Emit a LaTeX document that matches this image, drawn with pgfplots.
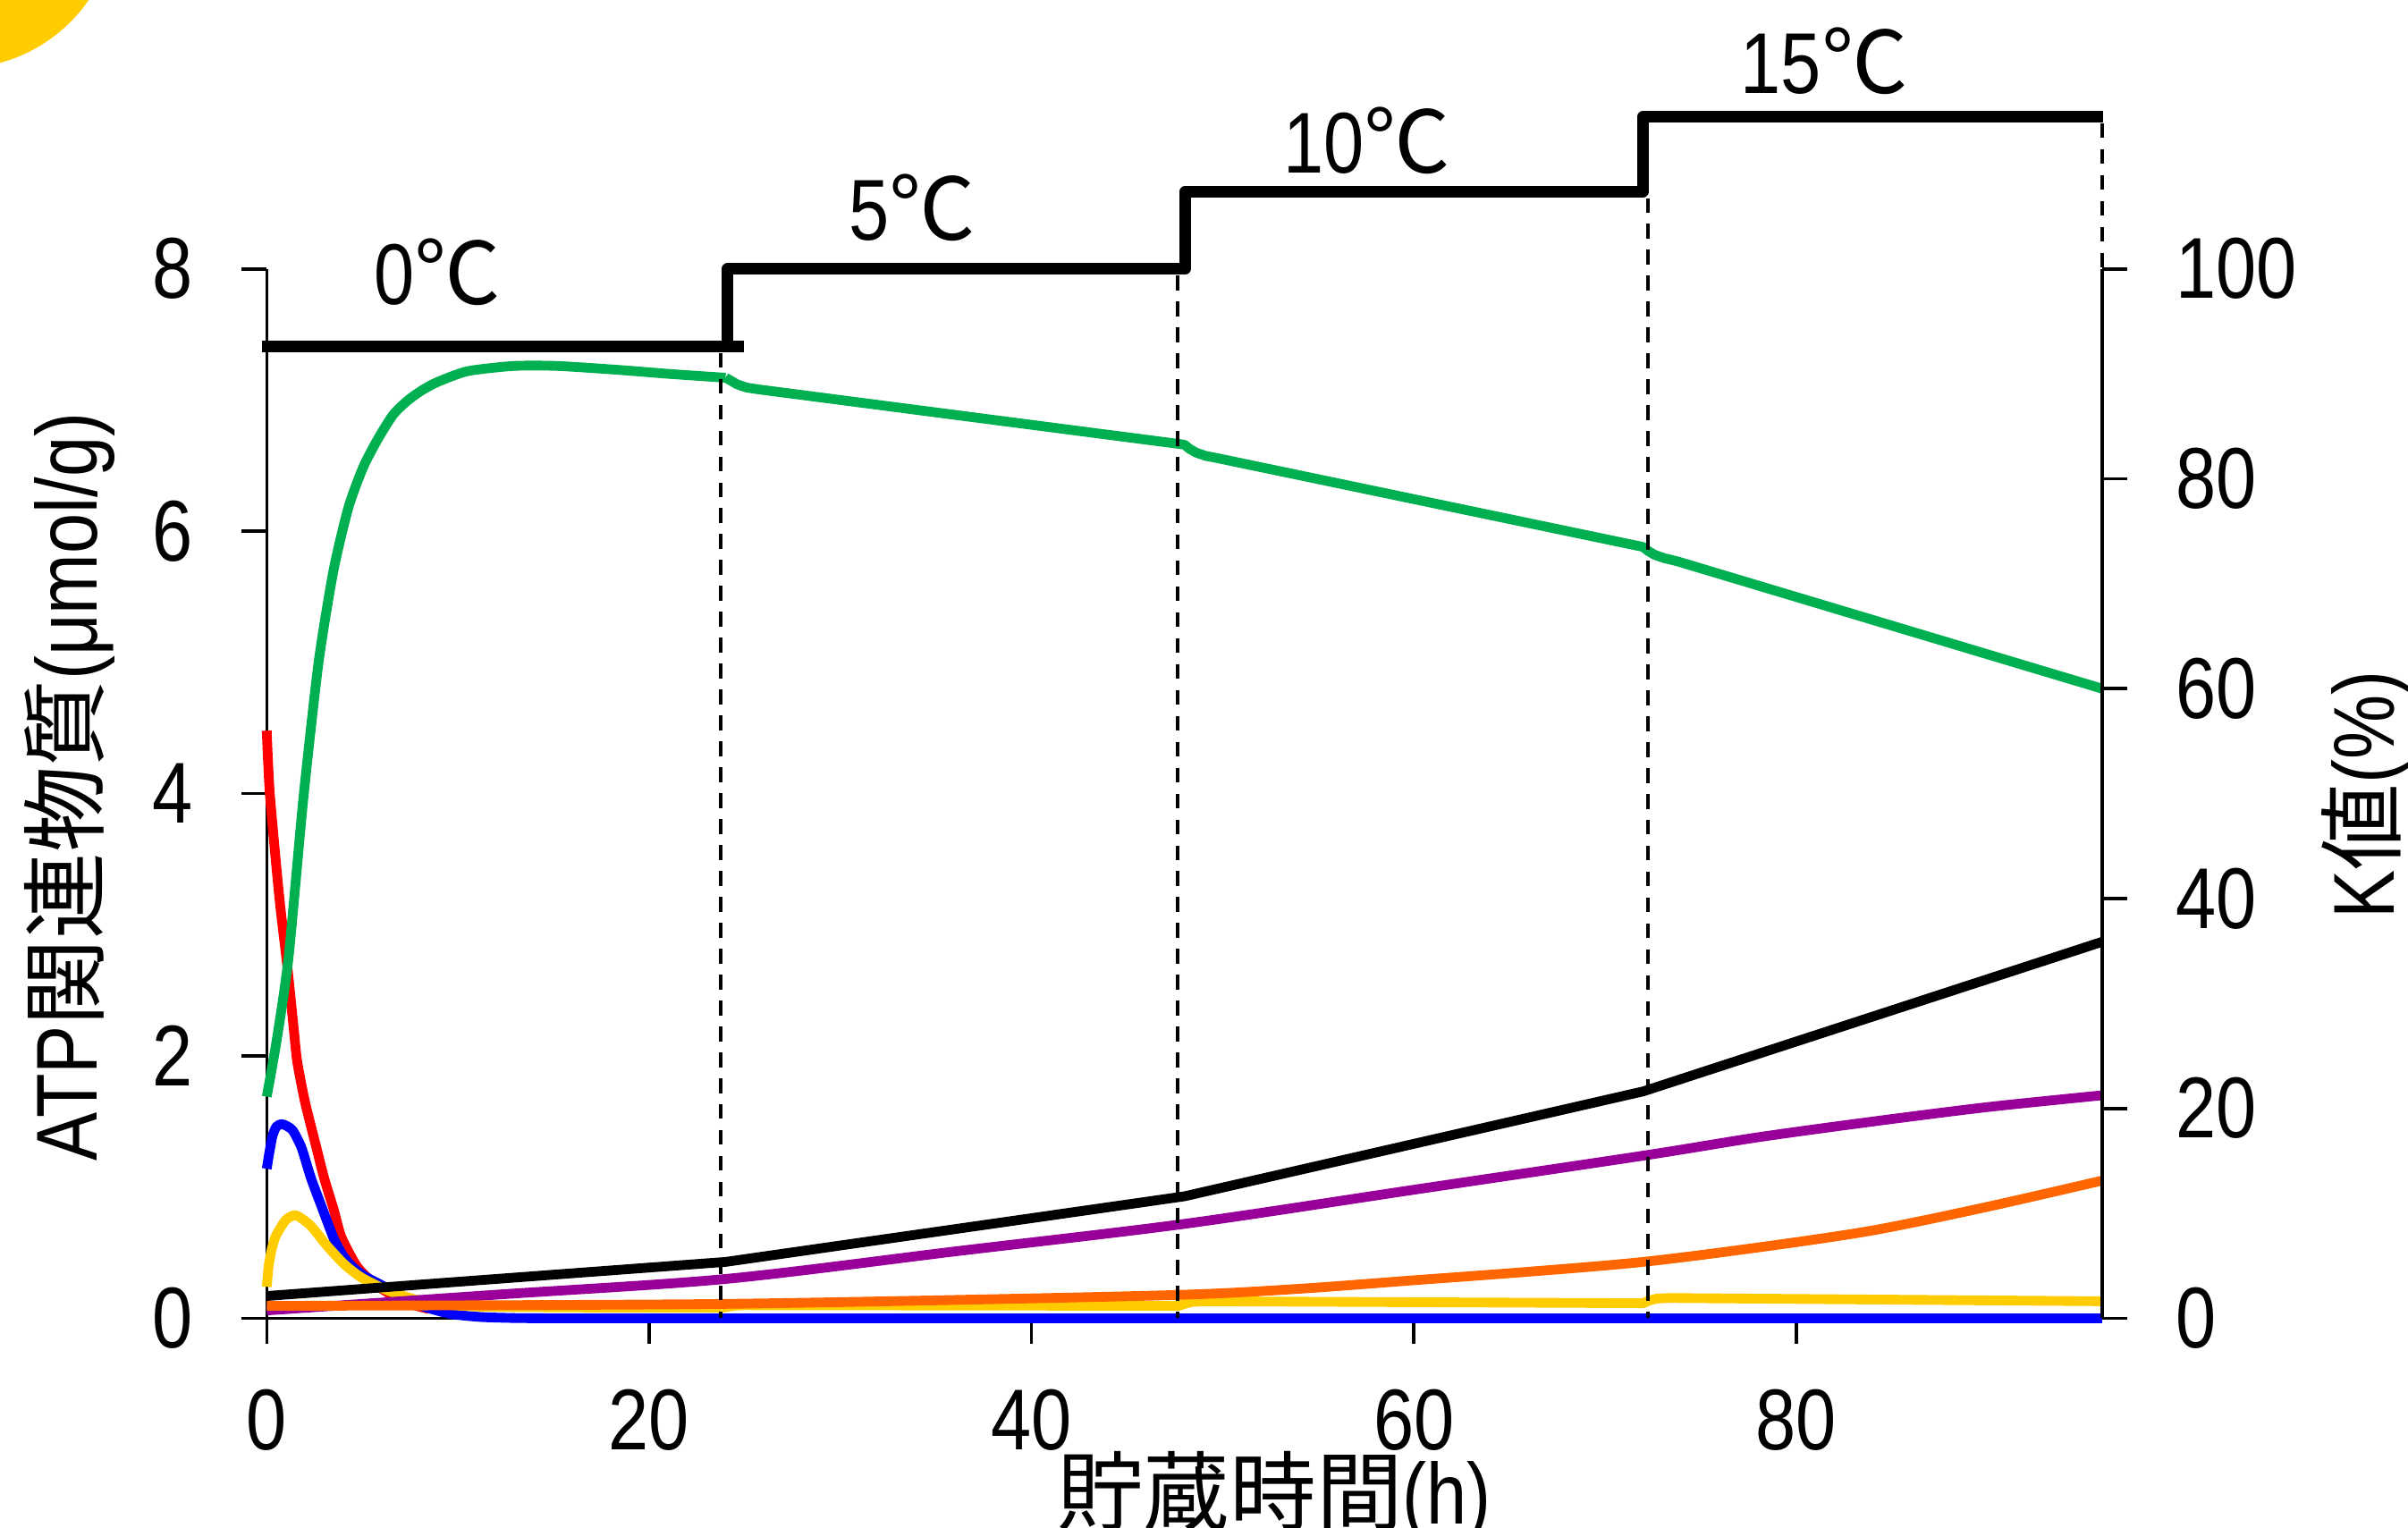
\documentclass[border=0pt]{standalone}
\usepackage{pgfplots}
\pgfplotsset{compat=1.18}
\usepackage{fontspec}
\setmainfont{Liberation Sans}[FakeStretch=0.84]
\newfontfamily\cjk{Noto Sans CJK JP}
\definecolor{cgreen}{HTML}{00B050}
\definecolor{cred}{HTML}{FF0000}
\definecolor{cblue}{HTML}{0000FF}
\definecolor{cyellow}{HTML}{FFCC00}
\definecolor{corange}{HTML}{FF6600}
\definecolor{cpurple}{HTML}{990099}
\tikzset{crv/.style={line width=1.8pt, line join=round}}
\begin{document}
\begin{tikzpicture}
\path[use as bounding box] (0,0) rectangle (15.68,9.95);
\begin{scope}
\clip (0,0) rectangle (15.68,9.95);
\fill[cyellow] (-0.27,10.535) circle (1.03);
\end{scope}
\begin{axis}[
  at={(1.737cm,1.365cm)}, anchor=south west,
  scale only axis, width=11.951cm, height=6.834cm,
  xmin=0, xmax=96, ymin=0, ymax=8, clip=false,
  axis x line*=bottom, axis y line*=left,
  axis line style={-, line width=0.6pt},
  xtick={0,20,40,60,80}, ytick={0,2,4,6,8},
  tick align=outside, major tick length=0.165cm,
  every tick/.style={black, line width=0.6pt},
  tick label style={font=\fontsize{16}{16}\selectfont},
  /pgf/number format/assume math mode=true,
  yticklabel style={anchor=east, inner sep=0pt, xshift=-0.31cm},
  xticklabel style={anchor=north, inner sep=0pt, yshift=-0.29cm},
]
% red
\addplot[cred, crv, smooth, tension=0.4] coordinates {(0,4.48) (0.05,4.3) (0.16,4.0) (0.44,3.54) (0.70,3.15) (1.1,2.65) (1.41,2.21) (1.59,1.96) (2.0,1.65) (2.6,1.30) (3.0,1.07) (3.5,0.83) (3.9,0.62) (4.7,0.40) (5.5,0.28) (6.5,0.18) (7.5,0.11) (8.5,0.07)};
% blue
\addplot[cblue, crv, smooth, tension=0.4] coordinates {(0,1.14) (0.12,1.25) (0.3,1.39) (0.5,1.46) (0.75,1.48) (1.0,1.47) (1.37,1.43) (1.82,1.30) (2.31,1.07) (2.9,0.84) (3.5,0.61) (3.98,0.48) (4.5,0.39) (5.14,0.32) (6.04,0.25) (7.1,0.16) (8.2,0.09) (9.6,0.034) (11.2,0.01) (13,0.002) (15,0.0)};
\addplot[cblue, crv] coordinates {(15,0.0) (96,0.0)};
% yellow
\addplot[cyellow, crv, smooth, tension=0.4] coordinates {(0,0.24) (0.1,0.4) (0.25,0.52) (0.48,0.63) (1.0,0.75) (1.52,0.785) (2.27,0.71) (3.17,0.55) (4.07,0.41) (4.96,0.31) (6.2,0.22) (7.6,0.15) (9,0.11) (11,0.09) (14,0.085) (18,0.082) (23.8,0.08)};
\addplot[cyellow, crv] coordinates {(23.8,0.08) (24.1,0.088) (24.5,0.097) (25,0.10) (47.7,0.095) (48.0,0.11) (48.4,0.125) (49,0.13) (72,0.115) (72.3,0.135) (72.7,0.15) (73.3,0.155) (96,0.13)};
% purple
\addplot[cpurple, crv, smooth, tension=0.5] coordinates {(0,0.06) (12,0.18) (24,0.30) (36,0.51) (48,0.72) (60,0.98) (72,1.24) (78,1.38) (84,1.50) (90,1.61) (96,1.70)};
% orange
\addplot[corange, crv, smooth, tension=0.5] coordinates {(0,0.095) (12,0.10) (24,0.11) (36,0.14) (48,0.18) (54,0.225) (60,0.29) (66,0.355) (72,0.43) (78,0.54) (84,0.67) (90,0.85) (96,1.05)};
% black
\addplot[black, crv] coordinates {(0,0.17) (24,0.43) (48,0.93) (72,1.73) (96,2.87)};
% green
\addplot[cgreen, crv, smooth, tension=0.4] coordinates {(0,1.69) (0.52,2.12) (1.14,2.75) (1.92,3.97) (2.71,5.0) (3.49,5.70) (4.27,6.18) (5.05,6.49) (5.84,6.71) (6.62,6.89) (7.4,7.0) (8.18,7.08) (8.97,7.14) (10.5,7.22) (12.9,7.26) (15.2,7.26) (18.4,7.23) (21,7.20) (24,7.17)};
\addplot[cgreen, crv] coordinates {(24,7.17) (24.25,7.15) (24.6,7.12) (25.1,7.095) (25.8,7.08) (48,6.66) (48.25,6.63) (48.6,6.60) (49.1,6.575) (49.8,6.555) (72,5.88) (72.25,5.85) (72.6,5.82) (73.1,5.795) (73.8,5.77) (96,4.80)};
% dashed verticals
\addplot[black, line width=0.65pt, dash pattern=on 2.75pt off 2.05pt] coordinates {(23.75,7.36) (23.75,0)};
\addplot[black, line width=0.65pt, dash pattern=on 2.75pt off 2.05pt] coordinates {(47.65,7.95) (47.65,0)};
\addplot[black, line width=0.65pt, dash pattern=on 2.75pt off 2.05pt] coordinates {(72.25,8.54) (72.25,0)};
\addplot[black, line width=0.65pt, dash pattern=on 2.75pt off 2.05pt] coordinates {(96.0,9.11) (96.0,8.0)};
% temperature steps
\addplot[black, line width=2.1pt] coordinates {(-0.25,7.41) (24.97,7.41)};
\addplot[black, line width=2.1pt, line join=round] coordinates {(24.1,7.41) (24.1,8.0) (48.04,8.0) (48.04,8.59) (71.98,8.59) (71.98,9.16) (96.05,9.16)};
% texts
\node[anchor=base, inner sep=0pt, font=\fontsize{16}{16}\selectfont] at (axis cs:8.95,7.73) {0{\cjk ℃}};
\node[anchor=base, inner sep=0pt, font=\fontsize{16}{16}\selectfont] at (axis cs:33.76,8.22) {5{\cjk ℃}};
\node[anchor=base, inner sep=0pt, font=\fontsize{16}{16}\selectfont] at (axis cs:57.56,8.73) {10{\cjk ℃}};
\node[anchor=base, inner sep=0pt, font=\fontsize{16}{16}\selectfont] at (axis cs:81.47,9.34) {15{\cjk ℃}};
\node[anchor=base, inner sep=0pt, font=\fontsize{16}{16}\selectfont] at (axis cs:52.7,-1.57) {{\cjk 貯蔵時間}(h)};
\node[anchor=base, rotate=90, inner sep=0pt, font=\fontsize{16}{16}\selectfont] at (axis cs:-8.88,4.05) {ATP{\cjk 関連物質}(μmol/g)};
\node[anchor=base, rotate=90, inner sep=0pt, font=\fontsize{16}{16}\selectfont] at (axis cs:111.28,3.99) {K{\cjk 値}(\%)};
\end{axis}
\begin{axis}[
  at={(1.737cm,1.365cm)}, anchor=south west,
  scale only axis, width=11.951cm, height=6.834cm,
  xmin=0, xmax=96, ymin=0, ymax=100,
  axis x line=none, axis y line*=right,
  axis line style={-, line width=0.6pt},
  ytick={0,20,40,60,80,100},
  tick align=outside, major tick length=0.165cm,
  every tick/.style={black, line width=0.6pt},
  tick label style={font=\fontsize{16}{16}\selectfont},
  /pgf/number format/assume math mode=true,
  yticklabel style={anchor=west, inner sep=0pt, xshift=0.31cm},
]
\addplot[draw=none] coordinates {(0,0) (96,100)};
\end{axis}
\end{tikzpicture}
\end{document}
